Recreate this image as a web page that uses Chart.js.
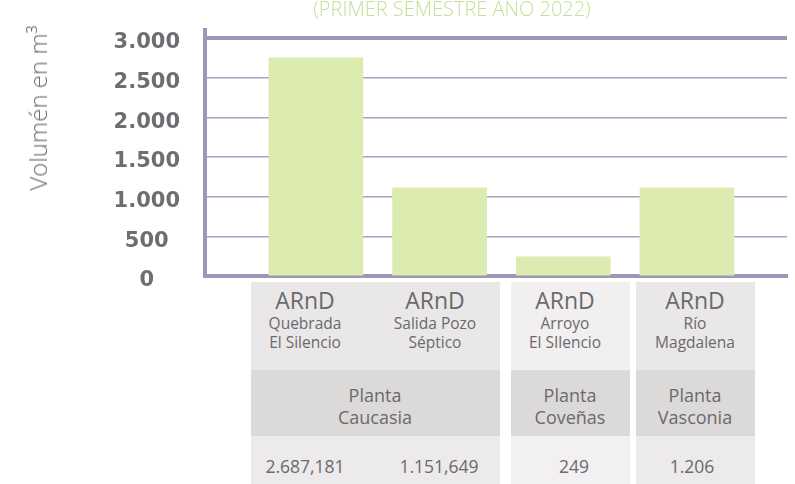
<!DOCTYPE html>
<html>
<head>
<meta charset="utf-8">
<script src="https://cdn.jsdelivr.net/npm/chart.js@4.4.0/dist/chart.umd.min.js"></script>
<style>
  html, body { margin: 0; padding: 0; background: #fff; }
  #wrap { position: relative; width: 795px; height: 484px; overflow: hidden; font-family: "Open Sans", "Noto Sans", sans-serif; }
  #chart { position: absolute; left: 0; top: 0; }
  .txt { position: absolute; transform: translate(-50%, -50%); white-space: nowrap; color: #6b696c; line-height: 1; }
  .box { position: absolute; }
  #subtitle { position: absolute; left: 452px; top: 9px; transform: translate(-50%, -50%); white-space: nowrap;
              font-size: 20px; font-weight: 300; color: #c6df98; line-height: 1; }
  #ytitle { position: absolute; left: 38px; top: 108px; transform: translate(-50%, -50%) rotate(-90deg); white-space: nowrap;
            font-size: 24px; font-weight: 300; color: #6d6e71; line-height: 1; }
</style>
</head>
<body>
<div id="wrap">
  <canvas id="chart" width="795" height="484"></canvas>
  <div id="subtitle">(PRIMER SEMESTRE AÑO 2022)</div>
  <div id="ytitle">Volumén en m³</div>
  <div id="table"></div>
</div>
<script>
// datos
const sourceType = 'ARnD';
const sources = [['Quebrada', 'El Silencio'], ['Salida Pozo', 'Séptico'], ['Arroyo', 'El SIlencio'], ['Río', 'Magdalena']];
const volumes = [2750, 1110, 240, 1110];
const plants = [['Planta', 'Caucasia'], ['Planta', 'Coveñas'], ['Planta', 'Vasconia']];
const tableValues = ['2.687,181', '1.151,649', '249', '1.206'];
const yTicks = [0, 500, 1000, 1500, 2000, 2500, 3000];

const axisColor = '#9c97b6';
const gridColor = '#a7a2c0';
const barColor = '#dcebb0';

const fmt = v => String(v).replace(/\B(?=(\d{3})+(?!\d))/g, '.');

new Chart(document.getElementById('chart'), {
    type: 'bar',
    data: {
        datasets: [{
            data: volumes.map((v, i) => ({ x: i + 1, y: v })),
            backgroundColor: barColor,
            borderWidth: 0,
            barThickness: 94
        }]
    },
    options: {
        responsive: false,
        animation: false,
        devicePixelRatio: 1,
        layout: { padding: { top: 30, left: 100, right: 8, bottom: 208 } },
        plugins: { legend: { display: false }, tooltip: { enabled: false }, title: { display: false } },
        scales: {
            x: {
                type: 'linear',
                offset: false,
                min: 0.1035,
                max: 4.809,
                afterFit: s => { s.height = 0; s.paddingLeft = 0; s.paddingRight = 0; },
                ticks: { display: false },
                grid: { display: false, drawTicks: false },
                border: { display: true, width: 4, color: axisColor }
            },
            y: {
                min: 0,
                max: 3100,
                z: 1,
                afterBuildTicks: s => { s.ticks = yTicks.map(v => ({ value: v })); },
                afterFit: s => { s.width = 105; s.paddingTop = 0; s.paddingBottom = 0; },
                border: { display: true, width: 4, color: axisColor },
                grid: {
                    drawTicks: false,
                    color: c => c.tick && c.tick.value === 0 ? 'rgba(0,0,0,0)' : (c.tick && c.tick.value === 3000 ? axisColor : gridColor),
                    lineWidth: c => c.tick && c.tick.value === 3000 ? 4 : 1.5
                },
                ticks: {
                    padding: 25,
                    labelOffset: 5,
                    crossAlign: 'center',
                    color: '#6d6e71',
                    font: { family: 'DejaVu Sans', weight: 'bold', size: 21 },
                    callback: v => fmt(v)
                }
            }
        }
    }
});

// tabla inferior
const table = document.getElementById('table');
function addBox(l, t, w, h, bg) {
    const d = document.createElement('div');
    d.className = 'box';
    d.style.cssText = `left:${l}px;top:${t}px;width:${w}px;height:${h}px;background:${bg}`;
    table.appendChild(d);
}
function addText(x, y, text, size) {
    const d = document.createElement('div');
    d.className = 'txt';
    d.style.cssText = `left:${x}px;top:${y}px;font-size:${size}px`;
    d.textContent = text;
    table.appendChild(d);
}

const groups = [{ l: 251, w: 249 }, { l: 511, w: 119 }, { l: 636, w: 119 }];
const headBg = ['#e9e7e8', '#f1eff0', '#e9e7e8'];
const footBg = ['#eceaeb', '#f2f0f1', '#eceaeb'];
groups.forEach((g, i) => {
    addBox(g.l, 282, g.w, 88, headBg[i]);
    addBox(g.l, 370, g.w, 66, '#dcd9d9');
    addBox(g.l, 436, g.w, 48, footBg[i]);
});

const srcX = [305, 435, 565, 695];
sources.forEach((s, i) => {
    addText(srcX[i], 300, sourceType, 23);
    addText(srcX[i], 324, s[0], 15.5);
    addText(srcX[i], 343, s[1], 15.5);
});

const plantX = [375, 570, 695];
plants.forEach((p, i) => {
    addText(plantX[i], 395, p[0], 18);
    addText(plantX[i], 417, p[1], 18);
});

const valX = [305, 439, 574, 692];
tableValues.forEach((v, i) => addText(valX[i], 467, v, 17.5));
</script>
</body>
</html>
